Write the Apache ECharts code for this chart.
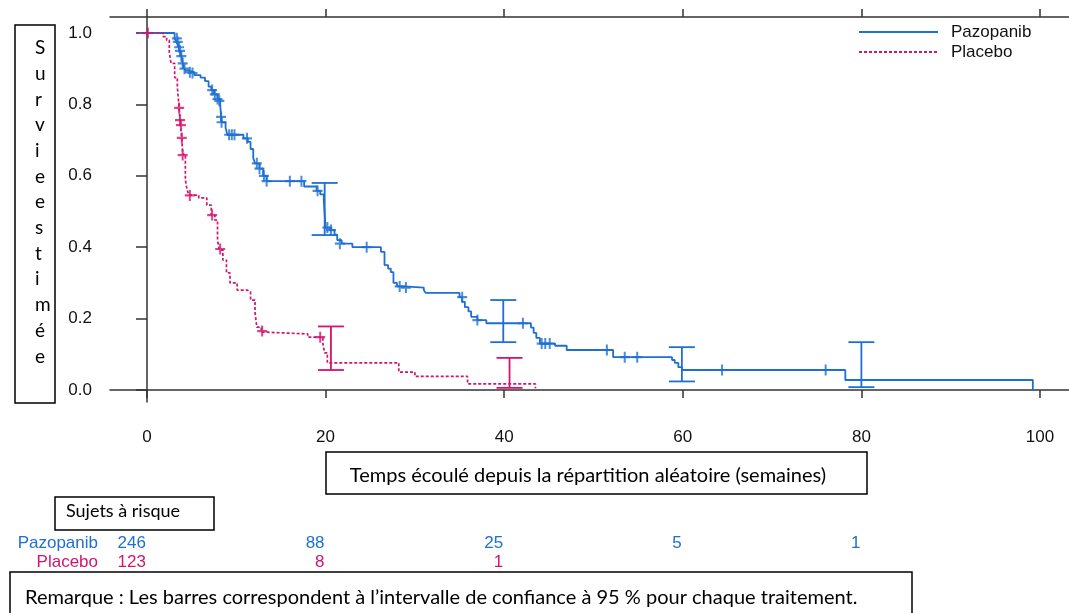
<!DOCTYPE html>
<html><head><meta charset="utf-8">
<script src="https://cdn.jsdelivr.net/npm/echarts@6/dist/echarts.min.js"></script>
<style>html,body{margin:0;padding:0;background:#fff}#c{width:1069px;height:613px}</style>
</head><body><div id="c"></div>
<script>
// ---- data ----
const pazoTimes = [-1.2, 3.1, 3.3, 3.5, 3.6, 3.75, 3.9, 4.0, 4.1, 4.3, 4.6, 5.3, 6.0, 6.5, 6.9, 7.2, 7.5, 7.9, 8.2, 8.3, 8.4, 8.8, 9.0, 10.8, 11.3, 11.6, 11.9, 12.1, 12.6, 13.0, 13.4, 17.6, 19.0, 19.4, 19.8, 20.0, 20.5, 21.0, 21.3, 21.8, 23.0, 26.2, 26.6, 27.0, 27.3, 27.6, 28.0, 28.8, 31.0, 31.2, 35.0, 35.3, 35.6, 36.0, 36.3, 37.0, 38.0, 43.0, 43.3, 43.6, 44.0, 45.7, 47.0, 52.2, 58.8, 59.1, 59.5, 59.9, 78.2, 99.2];
const pazoSurv  = [1.0, 0.985, 0.975, 0.965, 0.955, 0.945, 0.93, 0.915, 0.905, 0.895, 0.89, 0.882, 0.875, 0.865, 0.85, 0.84, 0.828, 0.815, 0.80, 0.765, 0.75, 0.735, 0.715, 0.705, 0.695, 0.675, 0.65, 0.635, 0.62, 0.60, 0.585, 0.57, 0.558, 0.548, 0.53, 0.455, 0.448, 0.435, 0.42, 0.41, 0.40, 0.387, 0.35, 0.34, 0.33, 0.30, 0.29, 0.287, 0.28, 0.272, 0.26, 0.247, 0.232, 0.22, 0.205, 0.196, 0.187, 0.175, 0.16, 0.146, 0.13, 0.124, 0.112, 0.092, 0.084, 0.076, 0.064, 0.056, 0.028, 0.0];

const placTimes = [-1.2, 1.8, 2.2, 2.5, 2.7, 3.1, 3.4, 3.6, 3.7, 3.9, 4.0, 4.3, 4.5, 4.7, 5.8, 6.7, 7.2, 7.6, 7.9, 8.1, 8.5, 8.9, 9.3, 10.1, 11.2, 11.6, 12.1, 12.3, 12.8, 13.3, 18.0, 19.7, 19.9, 20.2, 28.2, 30.0, 35.9, 43.5];
const placSurv  = [1.0, 0.99, 0.98, 0.945, 0.915, 0.875, 0.85, 0.79, 0.755, 0.705, 0.66, 0.588, 0.56, 0.546, 0.538, 0.518, 0.49, 0.476, 0.42, 0.392, 0.364, 0.328, 0.30, 0.28, 0.275, 0.252, 0.218, 0.176, 0.162, 0.157, 0.148, 0.13, 0.104, 0.076, 0.05, 0.038, 0.017, 0.005];

const pazoCensorT = [3.35, 3.45, 3.6, 3.7, 3.85, 4.0, 4.2, 4.8, 5.1, 7.3, 7.6, 7.9, 8.1, 8.3, 8.35, 9.2, 9.5, 9.8, 11.2, 12.3, 12.6, 13.1, 13.4, 16.0, 17.3, 19.1, 20.2, 20.6, 21.6, 24.6, 28.3, 29.0, 35.3, 37.0, 42.1, 44.2, 44.6, 45.1, 51.5, 53.5, 54.9, 64.4, 76.0];
const pazoCensorS = [0.985, 0.975, 0.96, 0.95, 0.935, 0.915, 0.9, 0.89, 0.888, 0.84, 0.828, 0.815, 0.81, 0.765, 0.75, 0.715, 0.715, 0.715, 0.705, 0.635, 0.62, 0.6, 0.585, 0.585, 0.585, 0.558, 0.455, 0.448, 0.41, 0.40, 0.29, 0.287, 0.26, 0.196, 0.187, 0.13, 0.13, 0.13, 0.112, 0.092, 0.092, 0.056, 0.056];

const placCensorT = [0.1, 3.6, 3.7, 3.8, 3.9, 4.0, 4.8, 7.3, 8.2, 12.9, 19.4];
const placCensorS = [1.0, 0.79, 0.756, 0.742, 0.706, 0.658, 0.545, 0.49, 0.395, 0.165, 0.148];

const pazoCiT = [19.9, 39.9, 59.9, 80.0];
const pazoCiLow = [0.434, 0.134, 0.024, 0.008];
const pazoCiHigh = [0.58, 0.252, 0.12, 0.134];

const placCiT = [20.6, 40.6];
const placCiLow = [0.056, 0.006];
const placCiHigh = [0.178, 0.09];

const xTicks = [0, 20, 40, 60, 80, 100];
const yTicks = [0, 0.2, 0.4, 0.6, 0.8, 1.0];

const riskTimes = [0, 20, 40, 60, 80];
const riskPazo = [246, 88, 25, 5, 1];
const riskPlac = [123, 8, 1];

const seriesNames = ['Pazopanib', 'Placebo'];
const yTitle = 'Survieestimée';
const xTitle = 'Temps écoulé depuis la répartition aléatoire (semaines)';
const riskTitle = 'Sujets à risque';
const noteText = 'Remarque : Les barres correspondent à l’intervalle de confiance à 95 % pour chaque traitement.';

// ---- chart ----
const BLUE = '#1E6FD2', MAG = '#D2146C', AX = '#333';
const FONT = 'Liberation Sans', BOXFONT = 'Lato';
const zip = (a, b) => a.map((v, i) => [v, b[i]]);
const zip3 = (a, b, c) => a.map((v, i) => [v, b[i], c[i]]);

function ciRender(color) {
  return function (params, api) {
    const x = api.value(0), lo = api.value(1), hi = api.value(2);
    const pL = api.coord([x, lo]), pH = api.coord([x, hi]);
    const w = 13, st = { stroke: color, lineWidth: 1.8 };
    return { type: 'group', children: [
      { type: 'line', shape: { x1: pL[0], y1: pL[1], x2: pH[0], y2: pH[1] }, style: st },
      { type: 'line', shape: { x1: pL[0] - w, y1: pL[1], x2: pL[0] + w, y2: pL[1] }, style: st },
      { type: 'line', shape: { x1: pH[0] - w, y1: pH[1], x2: pH[0] + w, y2: pH[1] }, style: st }
    ]};
  };
}
const PLUS = 'path://M4,0H6V4H10V6H6V10H4V6H0V4H4Z';

const chart = echarts.init(document.getElementById('c'), null, { renderer: 'canvas' });
const xMin = -4.14, xMax = 103.25, yMin = -0.0336, yMax = 1.0448;
chart.setOption({
  animation: false,
  backgroundColor: '#fff',
  grid: { left: 110, right: 0, top: 17, bottom: 211 },
  legend: {
    orient: 'vertical', left: 858, top: 23, padding: 0, itemWidth: 79, itemHeight: 12, itemGap: 2,
    data: seriesNames, selectedMode: false,
    itemStyle: { opacity: 0 },
    textStyle: { fontFamily: FONT, fontSize: 17, lineHeight: 18, color: '#111', padding: [0, 0, 0, 8] }
  },
  xAxis: [
    { type: 'value', position: 'bottom', min: xMin, max: xMax,
      axisLine: { show: true, lineStyle: { color: AX, width: 1.5 } },
      axisTick: { show: true, length: 8, customValues: xTicks, lineStyle: { color: AX, width: 1.5 } },
      axisLabel: { customValues: xTicks, margin: 27, fontFamily: FONT, fontSize: 17, color: '#111' },
      splitLine: { show: false } },
    { type: 'value', position: 'top', min: xMin, max: xMax,
      axisLine: { show: true, lineStyle: { color: AX, width: 1.5 } },
      axisTick: { show: true, length: 8, customValues: xTicks, lineStyle: { color: AX, width: 1.5 } },
      axisLabel: { show: false }, splitLine: { show: false } }
  ],
  yAxis: { type: 'value', min: yMin, max: yMax,
    axisLine: { show: true, lineStyle: { color: AX, width: 1.5 } },
    axisTick: { show: true, length: 11, customValues: yTicks, lineStyle: { color: AX, width: 1.5 } },
    axisLabel: { customValues: yTicks, margin: 18, fontFamily: FONT, fontSize: 17, color: '#111',
      formatter: v => v.toFixed(1) },
    splitLine: { show: false } },
  series: [
    { name: seriesNames[0], type: 'line', step: 'end', symbol: 'none', data: zip(pazoTimes, pazoSurv),
      lineStyle: { color: BLUE, width: 1.8 }, itemStyle: { color: BLUE }, z: 3 },
    { name: seriesNames[1], type: 'line', step: 'end', symbol: 'none', data: zip(placTimes, placSurv),
      lineStyle: { color: MAG, width: 1.7, type: [3, 2] }, itemStyle: { color: MAG }, z: 3 },
    { type: 'scatter', data: zip(pazoCensorT, pazoCensorS), symbol: PLUS, symbolSize: [10, 11],
      itemStyle: { color: BLUE }, silent: true, z: 4 },
    { type: 'scatter', data: zip(placCensorT, placCensorS), symbol: PLUS, symbolSize: [10, 11],
      itemStyle: { color: MAG }, silent: true, z: 4 },
    { type: 'custom', data: zip3(pazoCiT, pazoCiLow, pazoCiHigh), renderItem: ciRender(BLUE),
      encode: { x: 0, y: [1, 2] }, silent: true, z: 5 },
    { type: 'custom', data: zip3(placCiT, placCiLow, placCiHigh), renderItem: ciRender(MAG),
      encode: { x: 0, y: [1, 2] }, silent: true, z: 5 }
  ]
});

// ---- annotations: boxes, vertical title, risk table ----
const g = [];
const boxStyle = { fill: 'none', stroke: '#000', lineWidth: 1.5 };
// y title box
g.push({ type: 'rect', shape: { x: 15, y: 25, width: 40, height: 378 }, style: boxStyle });
yTitle.split('').forEach((ch, i) => {
  g.push({ type: 'text', x: 35, y: 48 + i * 25.7, style: { text: ch, fill: '#000', font: '19px ' + BOXFONT, textAlign: 'left', textVerticalAlign: 'middle' } });
});
// x title box
g.push({ type: 'rect', shape: { x: 326, y: 452, width: 541, height: 42 }, style: boxStyle });
g.push({ type: 'text', x: 588, y: 476, style: { text: xTitle, fill: '#000', font: '20px ' + BOXFONT, textAlign: 'center', textVerticalAlign: 'middle' } });
// risk box
g.push({ type: 'rect', shape: { x: 55, y: 497, width: 159, height: 33 }, style: boxStyle });
g.push({ type: 'text', x: 66, y: 511, style: { text: riskTitle, fill: '#000', font: '18px ' + BOXFONT, textAlign: 'left', textVerticalAlign: 'middle' } });
// note box
g.push({ type: 'rect', shape: { x: 10, y: 572, width: 902, height: 60 }, style: boxStyle });
g.push({ type: 'text', x: 25, y: 598, style: { text: noteText, fill: '#000', font: '20px ' + BOXFONT, textAlign: 'left', textVerticalAlign: 'middle' } });
// risk table
g.push({ type: 'text', x: 98, y: 543, style: { text: seriesNames[0], fill: BLUE, font: '17px ' + FONT, textAlign: 'right', textVerticalAlign: 'middle' } });
g.push({ type: 'text', x: 98, y: 562, style: { text: seriesNames[1], fill: MAG, font: '17px ' + FONT, textAlign: 'right', textVerticalAlign: 'middle' } });
riskTimes.forEach((t, i) => {
  const px = chart.convertToPixel({ xAxisIndex: 0 }, t);
  g.push({ type: 'text', x: px - 1, y: 543, style: { text: String(riskPazo[i]), fill: BLUE, font: '17px ' + FONT, textAlign: 'right', textVerticalAlign: 'middle' } });
  if (i < riskPlac.length) {
    g.push({ type: 'text', x: px - 1, y: 562, style: { text: String(riskPlac[i]), fill: MAG, font: '17px ' + FONT, textAlign: 'right', textVerticalAlign: 'middle' } });
  }
});
chart.setOption({ graphic: { elements: g } });
</script></body></html>
